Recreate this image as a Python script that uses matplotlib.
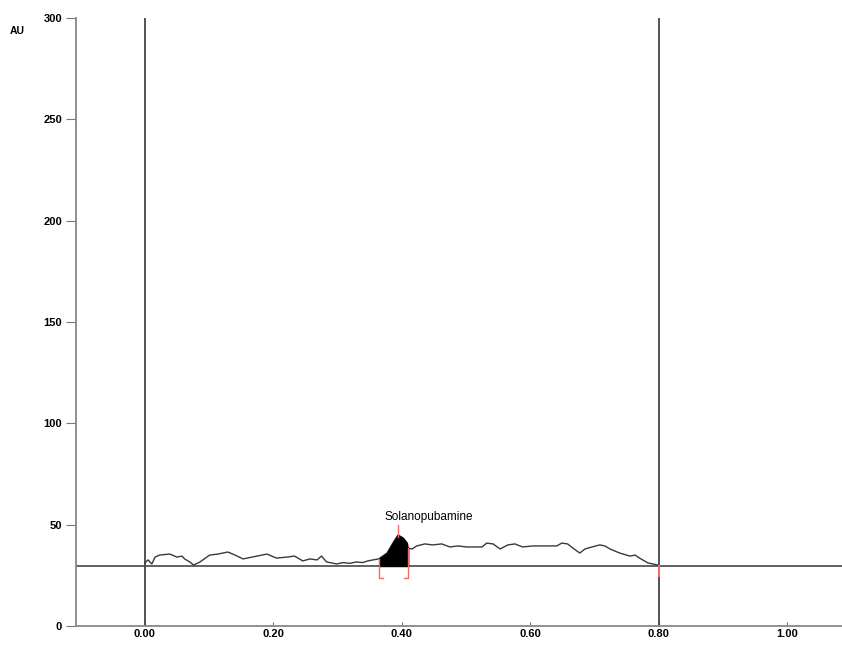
import matplotlib
matplotlib.use('Agg')
import matplotlib.pyplot as plt
import numpy as np

# densitometric trace (Rf, AU)
rf = [0.000, 0.005, 0.011, 0.016, 0.023, 0.039, 0.050, 0.058, 0.062, 0.070,
      0.076, 0.086, 0.101, 0.114, 0.129, 0.137, 0.153, 0.167, 0.190, 0.205,
      0.221, 0.233, 0.246, 0.257, 0.268, 0.275, 0.283, 0.299, 0.308, 0.319,
      0.329, 0.339, 0.347, 0.355, 0.364, 0.377, 0.386, 0.394, 0.402, 0.408,
      0.409, 0.416, 0.423, 0.436, 0.448, 0.462, 0.475, 0.487, 0.501, 0.525,
      0.532, 0.542, 0.553, 0.565, 0.576, 0.588, 0.604, 0.619, 0.641, 0.649,
      0.658, 0.666, 0.677, 0.685, 0.696, 0.708, 0.716, 0.724, 0.739, 0.755,
      0.763, 0.770, 0.783, 0.791, 0.798]
au = [31.1, 32.6, 30.6, 34.0, 35.0, 35.5, 34.0, 34.5, 33.1, 31.6,
      30.1, 31.6, 35.0, 35.5, 36.5, 35.5, 33.1, 34.0, 35.5, 33.5,
      34.0, 34.5, 32.1, 33.1, 32.6, 34.5, 31.6, 30.6, 31.3, 30.9,
      31.6, 31.3, 32.1, 32.6, 33.1, 36.0, 40.9, 44.9, 43.4, 40.9,
      38.5, 38.0, 39.5, 40.5, 40.0, 40.5, 39.0, 39.5, 39.0, 39.0,
      40.9, 40.5, 38.0, 40.0, 40.5, 39.0, 39.5, 39.5, 39.5, 40.9,
      40.5, 38.5, 36.0, 38.0, 39.0, 40.0, 39.5, 38.0, 36.0, 34.5,
      35.0, 33.5, 31.1, 30.6, 30.1]

baseline = 29.6
peak_name = 'Solanopubamine'
peak_start, peak_max, peak_end = 0.3647, 0.394, 0.4099
front_start, front_end = 0.0, 0.8

x_ticks = [0.0, 0.2, 0.4, 0.6, 0.8, 1.0]
y_ticks = [0, 50, 100, 150, 200, 250, 300]

plt.rcParams['font.family'] = ['Liberation Sans', 'DejaVu Sans']

fig = plt.figure(figsize=(8.42, 6.45), dpi=100)
ax = fig.add_axes([76 / 842, 19 / 645, 1 - 76 / 842, 608 / 645])

rf = np.array(rf)
au = np.array(au)

# baseline and start / front lines
ax.axhline(baseline, color='#555555', lw=1.3, zorder=2)
ax.axvline(front_start, color='#444444', lw=1.3, zorder=2)
ax.axvline(front_end, color='#444444', lw=1.3, zorder=2)

# trace
ax.plot(rf, au, color='#3a3a3a', lw=1.0, zorder=3)

# integrated peak
mask = (rf >= peak_start - 1e-9) & (rf <= peak_end + 1e-9)
px = np.concatenate([[peak_start], rf[mask], [peak_end]])
py = np.interp(px, rf, au)
ax.fill_between(px, baseline, py, color='black', zorder=4)

# peak brackets and marker
foot = 0.006
bot = 23.7
yl = np.interp(peak_start, rf, au)
yr = np.interp(peak_end, rf, au)
ax.plot([peak_start, peak_start, peak_start + foot], [yl, bot, bot], color='#f26b6b', lw=1.0, zorder=5)
ax.plot([peak_end, peak_end, peak_end - foot], [yr, bot, bot], color='#f26b6b', lw=1.0, zorder=5)
ax.plot([peak_max, peak_max], [43.9, 49.8], color='#f26b6b', lw=1.0, zorder=5)
ax.plot([front_end, front_end], [baseline, 24.7], color='#f26b6b', lw=1.5, zorder=5)
ax.text(0.442, 54.0, peak_name, ha='center', va='center', fontsize=8.5)

ax.set_xlim(-0.107, 1.085)
ax.set_ylim(0, 300)
ax.set_xticks(x_ticks)
ax.set_xticklabels(['%.2f' % v for v in x_ticks])
ax.set_yticks(y_ticks)
ax.tick_params(axis='x', direction='in', length=3, pad=2, labelsize=8, colors='#777777', labelcolor='black')
ax.tick_params(axis='y', direction='out', length=7, pad=3, labelsize=8, colors='#777777', labelcolor='black')
for lab in ax.get_xticklabels() + ax.get_yticklabels():
    lab.set_fontweight('bold')

ax.spines['top'].set_visible(False)
ax.spines['right'].set_visible(False)
ax.spines['left'].set_color('#888888')
ax.spines['bottom'].set_color('#888888')
ax.spines['left'].set_linewidth(1.3)
ax.spines['bottom'].set_linewidth(1.3)

fig.text(10 / 842, 1 - 31 / 645, 'AU', fontsize=7.5, fontweight='bold', va='center')

plt.savefig('out.png', dpi=100)
